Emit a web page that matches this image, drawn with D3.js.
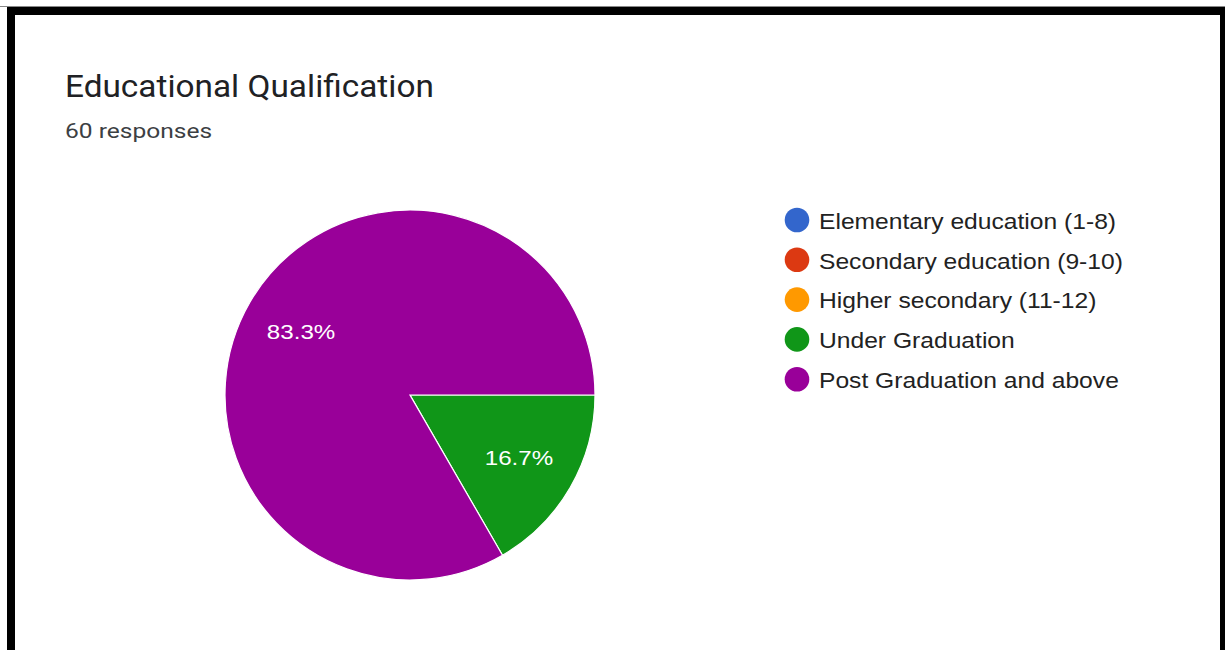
<!DOCTYPE html>
<html>
<head>
<meta charset="utf-8">
<script src="https://cdn.jsdelivr.net/npm/d3@7"></script>
<style>
  html, body { margin: 0; padding: 0; background: #fff; }
  svg { display: block; }
</style>
</head>
<body>
<svg id="chart" width="1225" height="650"></svg>
<script>
// Survey answers: Educational Qualification (60 responses)
const categories = [
  "Elementary education (1-8)",
  "Secondary education (9-10)",
  "Higher secondary (11-12)",
  "Under Graduation",
  "Post Graduation and above"
];
const counts = [0, 0, 0, 10, 50];
const colors = ["#3366cc", "#dc3912", "#ff9900", "#109618", "#990099"];
const title = "Educational Qualification";
const subtitle = "60 responses";

const svg = d3.select("#chart");
const sans = "'Liberation Sans', Arial, sans-serif";
const roboto = "Roboto, 'Open Sans', sans-serif";

// frame around the card
svg.append("rect").attr("x", 0).attr("y", 6).attr("width", 1225).attr("height", 1).attr("fill", "#888");
svg.append("path")
  .attr("d", "M7,650 V7 H1225 V650 H1220 V15 H15 V650 Z")
  .attr("fill", "#000");

// heading (glyphs set slightly wide)
svg.append("text")
  .attr("transform", "translate(65,97) scale(1.06,1)")
  .attr("font-family", roboto)
  .attr("font-size", 31.5)
  .attr("fill", "#202124")
  .text(title);
svg.append("text")
  .attr("transform", "translate(65,138) scale(1.17,1)")
  .attr("font-family", roboto)
  .attr("font-size", 21)
  .attr("fill", "#3c4043")
  .text(subtitle);

// pie
const cx = 410, cy = 395, r = 185;
const data = categories.map((c, i) => ({ name: c, value: counts[i], color: colors[i] }));
const total = d3.sum(counts);
const pie = d3.pie().value(d => d.value).sort(null)
  .startAngle(Math.PI / 2).endAngle(Math.PI / 2 + 2 * Math.PI);
const arcs = pie(data).filter(a => a.data.value > 0);
const arc = d3.arc().innerRadius(0).outerRadius(r);
const labelArc = d3.arc().innerRadius(r * 0.68).outerRadius(r * 0.68);

const g = svg.append("g").attr("transform", `translate(${cx},${cy})`);
g.selectAll("path.slice").data(arcs).join("path")
  .attr("class", "slice")
  .attr("d", arc)
  .attr("fill", d => d.data.color)
  .attr("stroke", "#fff")
  .attr("stroke-width", 1.2);

g.selectAll("text.pct").data(arcs).join("text")
  .attr("class", "pct")
  .attr("transform", d => `translate(${labelArc.centroid(d)}) scale(1.15,1)`)
  .attr("text-anchor", "middle")
  .attr("dy", "0.35em")
  .attr("font-family", sans)
  .attr("font-size", 21)
  .attr("fill", "#fff")
  .text(d => (d.data.value / total * 100).toFixed(1) + "%");

// legend
const legend = svg.append("g").attr("transform", "translate(797,220)");
const rowH = 39.8;
const item = legend.selectAll("g.item").data(data).join("g")
  .attr("class", "item")
  .attr("transform", (d, i) => `translate(0,${i * rowH})`);
item.append("circle").attr("r", 12.3).attr("fill", d => d.color);
item.append("text")
  .attr("transform", "translate(22,1) scale(1.12,1)")
  .attr("dy", "0.35em")
  .attr("font-family", sans)
  .attr("font-size", 22)
  .attr("fill", "#222")
  .text(d => d.name);
</script>
</body>
</html>
